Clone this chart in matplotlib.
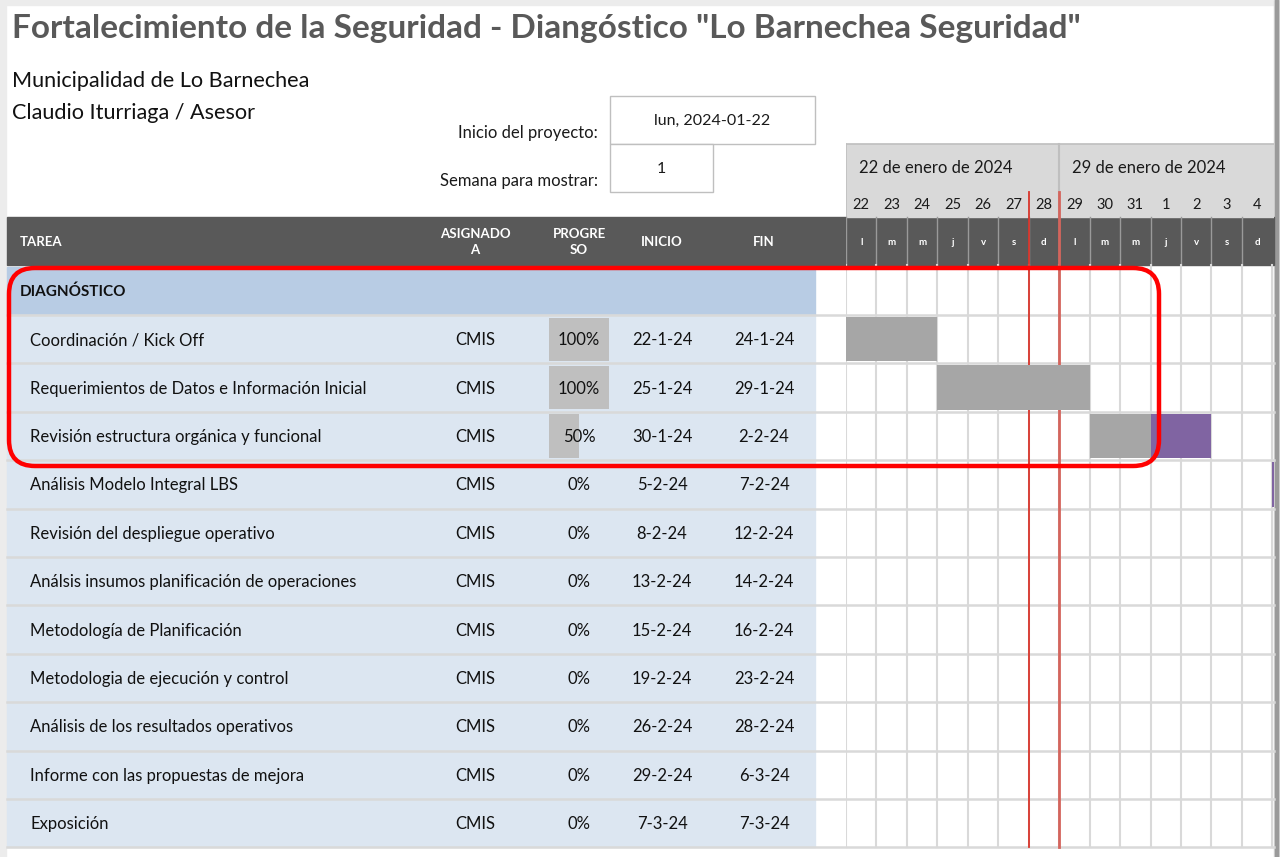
import matplotlib.pyplot as plt
from matplotlib.patches import Rectangle, FancyBboxPatch
from datetime import date, timedelta

plt.rcParams['font.family'] = ['Lato', 'DejaVu Sans']

# --- data ---
title = 'Fortalecimiento de la Seguridad - Diangóstico "Lo Barnechea Seguridad"'
org_lines = ["Municipalidad de Lo Barnechea", "Claudio Iturriaga / Asesor"]
project_start = date(2024, 1, 22)
week_to_show = 1
section = "DIAGNÓSTICO"

tasks = [
    "Coordinación / Kick Off",
    "Requerimientos de Datos e Información Inicial",
    "Revisión estructura orgánica y funcional",
    "Análisis Modelo Integral LBS",
    "Revisión del despliegue operativo",
    "Análsis insumos planificación de operaciones",
    "Metodología de Planificación",
    "Metodologia de ejecución y control",
    "Análisis de los resultados operativos",
    "Informe con las propuestas de mejora",
    "Exposición",
]
assigned = ["CMIS"] * len(tasks)
progress = [100, 100, 50, 0, 0, 0, 0, 0, 0, 0, 0]
start_dates = [date(2024, 1, 22), date(2024, 1, 25), date(2024, 1, 30), date(2024, 2, 5),
               date(2024, 2, 8), date(2024, 2, 13), date(2024, 2, 15), date(2024, 2, 19),
               date(2024, 2, 26), date(2024, 2, 29), date(2024, 3, 7)]
end_dates = [date(2024, 1, 24), date(2024, 1, 29), date(2024, 2, 2), date(2024, 2, 7),
             date(2024, 2, 12), date(2024, 2, 14), date(2024, 2, 16), date(2024, 2, 23),
             date(2024, 2, 28), date(2024, 3, 6), date(2024, 3, 7)]
marker_dates = [date(2024, 1, 28), date(2024, 1, 29)]

day_letters = ["l", "m", "m", "j", "v", "s", "d"]
weekdays_es = ["lun", "mar", "mié", "jue", "vie", "sáb", "dom"]
months_es = ["enero", "febrero", "marzo", "abril", "mayo", "junio", "julio",
             "agosto", "septiembre", "octubre", "noviembre", "diciembre"]
n_days = 14

# --- layout (pixels) ---
W, H = 1280, 857
TBL_L, TBL_R, PAGE_R = 7, 815, 1274
GANTT_L, DAY_W = 846, 30.45
HEAD_T, HEAD_B = 217, 265
ROW0, ROW_H = 266.6, 48.4
n_rows = len(tasks) + 1
GRID_B = ROW0 + n_rows * ROW_H
COL_ASG, COL_PRG, COL_INI, COL_FIN = 475, 579, 662, 764
PRG_L, PRG_W = 549, 60

DARK = "#595959"
GRIDC = "#d9d9d9"

fig = plt.figure(figsize=(W / 100, H / 100), dpi=100)
ax = fig.add_axes([0, 0, 1, 1])
ax.set_xlim(0, W)
ax.set_ylim(H, 0)
ax.axis('off')

# page edges
ax.add_patch(Rectangle((0, 0), W, 5, color="#ececec", zorder=0))
ax.add_patch(Rectangle((0, 0), 6, H, color="#ececec", zorder=0))
ax.add_patch(Rectangle((PAGE_R, 0), W - PAGE_R, H, color="#d6d6d6", zorder=0))
ax.add_patch(Rectangle((PAGE_R + 1, 0), 3, H, color="#9a9a9a", zorder=0))

ax.text(12, 28, title, fontsize=24, fontweight='bold', color=DARK, va='center')
for k, line in enumerate(org_lines):
    ax.text(12, 81 + 32 * k, line, fontsize=15.6, color="#111111", va='center')

# project inputs
start_label = f"{weekdays_es[project_start.weekday()]}, {project_start.isoformat()}"
ax.text(598, 133, "Inicio del proyecto:", fontsize=12, ha='right', va='center', color="#1a1a1a")
ax.add_patch(Rectangle((610, 96), 205, 48, fc="white", ec="#bfbfbf", lw=1))
ax.text(712, 121, start_label, fontsize=11.5, ha='center', va='center', color="#1a1a1a")
ax.text(598, 181, "Semana para mostrar:", fontsize=12, ha='right', va='center', color="#1a1a1a")
ax.add_patch(Rectangle((610, 144), 103, 48, fc="white", ec="#bfbfbf", lw=1))
ax.text(661, 169, str(week_to_show), fontsize=11.5, ha='center', va='center', color="#1a1a1a")

# header row
ax.add_patch(Rectangle((TBL_L, HEAD_T), PAGE_R - TBL_L, HEAD_B - HEAD_T, color=DARK, zorder=1))
hdr = dict(fontsize=9.5, fontweight='bold', color='white', va='center', ha='center',
           linespacing=1.45, zorder=3)
ax.text(20, 242, "TAREA", **{**hdr, 'ha': 'left'})
ax.text(COL_ASG, 242, "ASIGNADO\nA", **hdr)
ax.text(COL_PRG, 242, "PROGRE\nSO", **hdr)
ax.text(COL_INI, 242, "INICIO", **hdr)
ax.text(COL_FIN, 242, "FIN", **hdr)

# table rows
ax.add_patch(Rectangle((TBL_L, ROW0), TBL_R - TBL_L, ROW_H, color="#b8cce4", zorder=1))
ax.text(20, ROW0 + ROW_H / 2 + 1, section, fontsize=11, fontweight='bold', color="#111111",
        va='center', zorder=3)


def fmt(d):
    return f"{d.day}-{d.month}-{d.year % 100}"


for i, name in enumerate(tasks):
    top = ROW0 + (i + 1) * ROW_H
    yc = top + ROW_H / 2
    ax.add_patch(Rectangle((TBL_L, top), TBL_R - TBL_L, ROW_H, color="#dce6f1", zorder=1))
    if progress[i] > 0:
        ax.barh(yc, PRG_W * progress[i] / 100, left=PRG_L, height=ROW_H - 5,
                color="#bfbfbf", zorder=2)
    txt = dict(fontsize=12, color="#111111", va='center', zorder=3)
    ax.text(30, yc + 1, name, **txt)
    ax.text(COL_ASG, yc + 1, assigned[i], ha='center', **txt)
    ax.text(COL_PRG, yc + 1, f"{progress[i]}%", ha='center', **txt)
    ax.text(COL_INI, yc + 1, fmt(start_dates[i]), ha='center', **txt)
    ax.text(COL_FIN, yc + 1, fmt(end_dates[i]), ha='center', **txt)

for i in range(1, n_rows + 1):
    y = ROW0 + i * ROW_H
    ax.plot([TBL_L, PAGE_R], [y, y], color=GRIDC, lw=1.8, zorder=2)

# --- gantt axes: x in days from project start, y in page pixels ---
x_max = (PAGE_R - GANTT_L) / DAY_W
ag = fig.add_axes([GANTT_L / W, 0, (PAGE_R - GANTT_L) / W, 1])
ag.set_xlim(0, x_max)
ag.set_ylim(H, 0)
ag.axis('off')
ag.patch.set_alpha(0)

# week header
ag.add_patch(Rectangle((0, 144), n_days + 1, HEAD_T - 144, color="#d9d9d9", zorder=1))
ag.plot([0, 0], [144, HEAD_T], color="#bfbfbf", lw=1.2, zorder=2)
ag.plot([0, x_max], [144, 144], color="#bfbfbf", lw=1.2, zorder=2)
for w in range(2):
    wd = project_start + timedelta(days=7 * w)
    if w > 0:
        ag.plot([7 * w, 7 * w], [144, HEAD_T], color="#bfbfbf", lw=1.5, zorder=2)
    ag.text(7 * w + 0.43, 168, f"{wd.day} de {months_es[wd.month - 1]} de {wd.year}",
            fontsize=12, color="#1a1a1a", va='center', zorder=3)

for k in range(n_days):
    d = project_start + timedelta(days=k)
    ag.text(k + 0.5, 205, str(d.day), fontsize=10.5, ha='center', va='center',
            color="#1a1a1a", zorder=3)
    ag.text(k + 0.5, 242, day_letters[d.weekday()], fontsize=7, fontweight='bold',
            ha='center', va='center', color="white", zorder=3)
    ag.plot([k, k], [HEAD_T, HEAD_B], color="#9a9a9a", lw=1, zorder=2)
    ag.plot([k, k], [HEAD_B, GRID_B], color=GRIDC, lw=1.5, zorder=2)
ag.plot([n_days, n_days], [HEAD_B, GRID_B], color=GRIDC, lw=1.5, zorder=2)

# today markers
for md, c, lw in zip(marker_dates, ["#d8342a", "#d4645c"], [1.3, 2.0]):
    xm = (md - project_start).days
    ag.plot([xm, xm], [192, GRID_B], color=c, lw=lw, zorder=3)

# task bars
for i in range(len(tasks)):
    top = ROW0 + (i + 1) * ROW_H
    s = (start_dates[i] - project_start).days
    dur = (end_dates[i] - start_dates[i]).days + 1
    done = dur * progress[i] / 100
    yc = top + ROW_H / 2
    if done > 0:
        ag.barh(yc, done, left=s, height=ROW_H - 4, color="#a6a6a6", zorder=4)
    if dur - done > 0:
        ag.barh(yc, dur - done, left=s + done, height=ROW_H - 4, color="#8064a2", zorder=4)

# highlight box, drawn above the gantt layer
ax.set_zorder(0)
ag.set_zorder(1)
box = FancyBboxPatch((9, 268), 1150, 198, boxstyle="round,pad=0,rounding_size=26",
                     fc='none', ec="#ff0000", lw=3.2, zorder=10, transform=ax.transData)
box.set_clip_on(False)
ag.add_artist(box)

fig.savefig("out.png", dpi=100)
